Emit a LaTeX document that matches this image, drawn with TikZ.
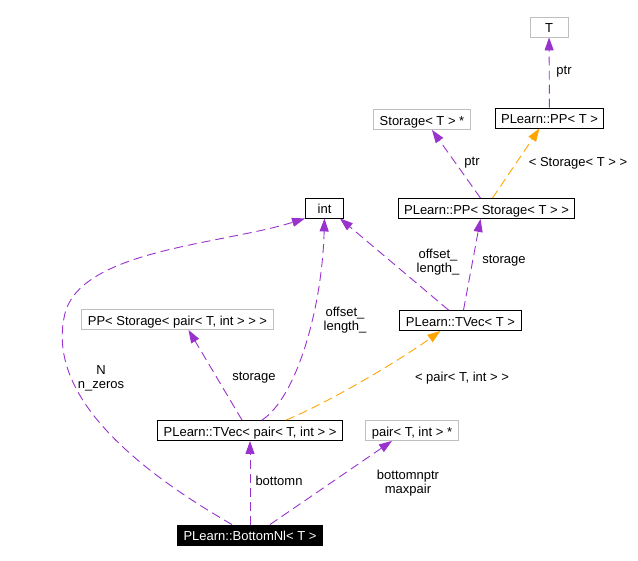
\documentclass[tikz,border=0pt]{standalone}
\usepackage{fontspec}
\setmainfont{Liberation Sans}
\usetikzlibrary{arrows.meta}

\definecolor{usecol}{HTML}{9A32CD}
\definecolor{tplcol}{HTML}{FFA500}

\begin{document}
\begin{tikzpicture}[
  x=1pt, y=-1pt,
  >={Triangle[length=13pt,width=9pt]},
  cls/.style={draw=black, line width=0.9pt, rectangle, minimum height=20pt,
              minimum width=38pt, inner xsep=6pt, inner ysep=0pt,
              text height=12pt, text depth=0.7pt,
              font=\fontsize{13}{15}\selectfont},
  ext/.style={cls, draw=gray!50},
  root/.style={cls, fill=black, text=white},
  use/.style={usecol, line width=0.9pt, dash pattern=on 9pt off 5pt, ->},
  tpl/.style={use, tplcol},
  lbl/.style={font=\fontsize{13}{14}\selectfont, align=center, inner sep=1pt},
]

\useasboundingbox (0,0) rectangle (638,561);

% ===== Classes =================================================================
\node[ext]  (tcls)      at (549,27)    {T};
\node[cls]  (ppt)       at (549.5,118) {PLearn::PP< T >};
\node[ext]  (storptr)   at (422,119.5) {Storage< T > *};
\node[cls]  (ppstor)    at (486.5,208.5) {PLearn::PP< Storage< T > >};
\node[cls]  (intcls)    at (324.5,208) {int};
\node[cls]  (tvect)     at (460.5,320.5) {PLearn::TVec< T >};
\node[ext]  (ppstorpair) at (177.5,319.5) {PP< Storage< pair< T, int > > >};
\node[cls]  (tvecpair)  at (250,430.5) {PLearn::TVec< pair< T, int > >};
\node[ext]  (pairptr)   at (412,430.5) {pair< T, int > *};
\node[root] (bottom)    at (250,535)   {PLearn::BottomNl< T >};

% ===== Upper part: PP and TVec of T ============================================
\draw[use] (ppt) -- (tcls);
\node[lbl] (lptr) at (564,72) {ptr};

\draw[use] ([xshift=-6pt]ppstor.north) -- ([xshift=10pt]storptr.south);
\node[lbl] (lptrb) at (472,163) {ptr};

\draw[tpl] ([xshift=6pt]ppstor.north) -- ([xshift=-10pt]ppt.south);
\node[lbl] (lstor) at (578,163) {< Storage< T > >};

\draw[use] ([xshift=3pt]tvect.north) -- ([xshift=-6pt]ppstor.south);
\node[lbl] (lstora) at (504,261) {storage};

\draw[use] ([xshift=-12pt]tvect.north) -- ([xshift=-4pt]intcls.south east);
\node[lbl] (loffa) at (438,262) {offset\_\\length\_};

% ===== Lower part: TVec of pairs and BottomNl ==================================
\draw[use] ([xshift=-8pt]tvecpair.north) -- ([xshift=11pt]ppstorpair.south);
\node[lbl] (lstorb) at (254,378) {storage};

\draw[use] ([xshift=12pt]tvecpair.north)
  .. controls (296,398) and (322,310) .. (intcls.south);
\node[lbl] (loffb) at (345,320) {offset\_\\length\_};

\draw[tpl] ([xshift=36pt]tvecpair.north)
  .. controls (330,402) and (400,360) .. ([xshift=-20pt]tvect.south);
\node[lbl] (lpair) at (462,378) {< pair< T, int > >};

\draw[use] (bottom) -- (tvecpair);
\node[lbl] (lbottomn) at (279,481) {bottomn};

\draw[use] ([xshift=20pt]bottom.north) -- ([xshift=-20pt]pairptr.south);
\node[lbl] (lbptr) at (408,483) {bottomnptr\\maxpair};

% long way round to int
\coordinate (bend) at (64,318);
\draw[use] ([xshift=-18pt]bottom.north)
  .. controls (120,460) and (50,390) .. (bend)
  .. controls (75,250) and (220,245) .. (intcls.south west);
\node[lbl] (lnz) at (101,378) {N\\n\_zeros};

\end{tikzpicture}
\end{document}
